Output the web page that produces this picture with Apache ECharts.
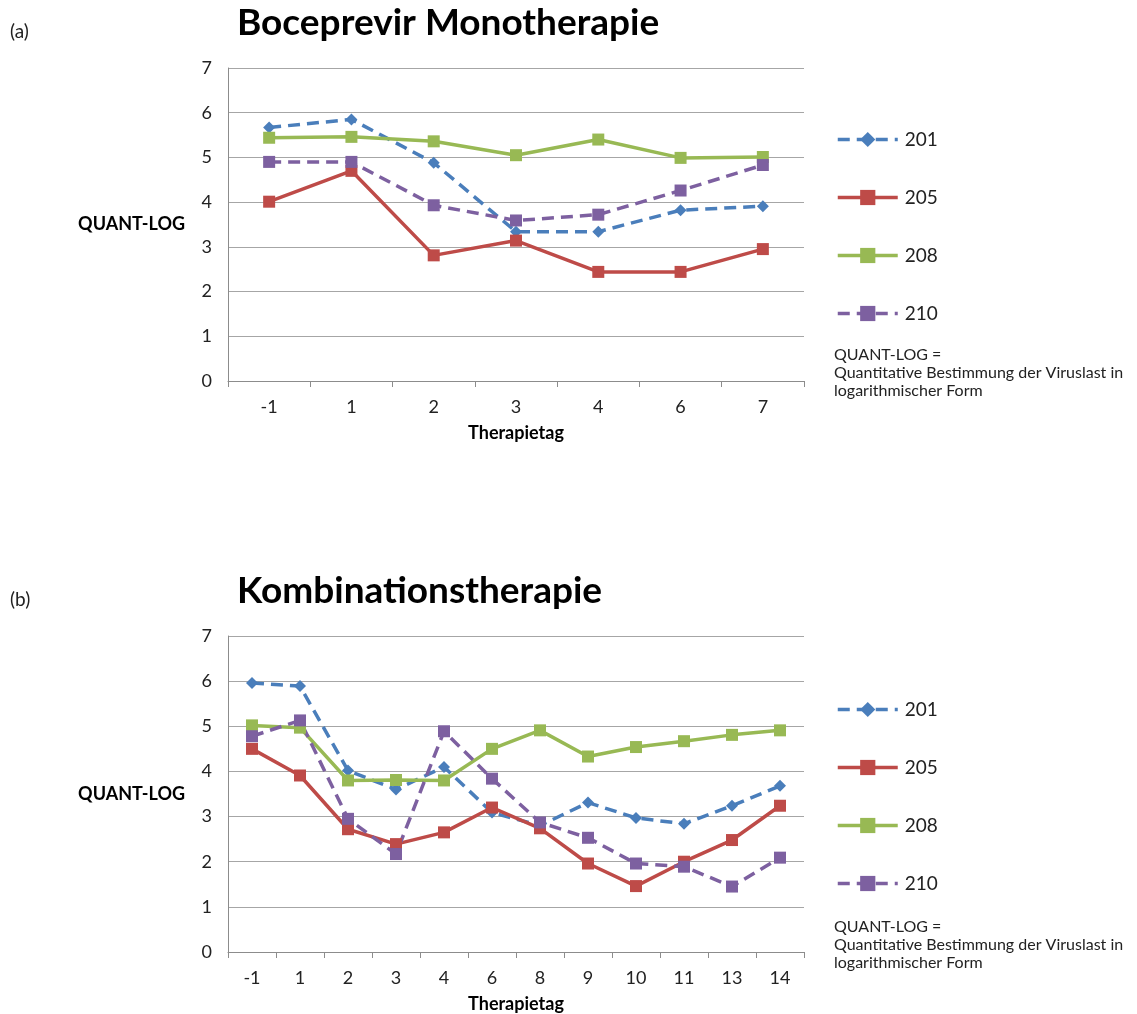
<!DOCTYPE html>
<html>
<head>
<meta charset="utf-8">
<script src="https://cdn.jsdelivr.net/npm/echarts@6/dist/echarts.min.js"></script>
<style>
  html, body { margin: 0; padding: 0; background: #fff; }
  #chart { width: 1137px; height: 1014px; }
</style>
</head>
<body>
<div id="chart"></div>
<script>
// Therapietage (x-axis categories)
const daysMono = ['-1', '1', '2', '3', '4', '6', '7'];
const daysCombo = ['-1', '1', '2', '3', '4', '6', '8', '9', '10', '11', '13', '14'];

// Patient IDs
const patients = ['201', '205', '208', '210'];

// QUANT-LOG values, Boceprevir Monotherapie
const mono201 = [5.67, 5.85, 4.88, 3.34, 3.34, 3.82, 3.91];
const mono205 = [4.01, 4.70, 2.81, 3.14, 2.44, 2.44, 2.95];
const mono208 = [5.44, 5.46, 5.36, 5.05, 5.40, 4.99, 5.01];
const mono210 = [4.90, 4.90, 3.93, 3.59, 3.72, 4.26, 4.83];

// QUANT-LOG values, Kombinationstherapie
const combo201 = [5.96, 5.89, 4.02, 3.60, 4.10, 3.09, 2.80, 3.31, 2.97, 2.84, 3.24, 3.68];
const combo205 = [4.50, 3.91, 2.72, 2.39, 2.65, 3.20, 2.74, 1.96, 1.46, 2.00, 2.48, 3.24];
const combo208 = [5.02, 4.97, 3.80, 3.81, 3.80, 4.50, 4.91, 4.33, 4.54, 4.67, 4.81, 4.91];
const combo210 = [4.78, 5.13, 2.95, 2.17, 4.89, 3.84, 2.87, 2.53, 1.96, 1.89, 1.45, 2.09];

const yTicks = { min: 0, max: 7, interval: 1 };

const FONT = 'Lato, "Open Sans", sans-serif';
const styles = {
  '201': { color: '#4a7ebb', type: [12, 7], symbol: 'diamond', size: 12 },
  '205': { color: '#be4b48', type: 'solid', symbol: 'rect', size: 12 },
  '208': { color: '#98b954', type: 'solid', symbol: 'rect', size: 12 },
  '210': { color: '#7d60a0', type: [12, 7], symbol: 'rect', size: 12 }
};

function makeSeries(name, data, idx) {
  const s = styles[name];
  return {
    name: name,
    type: 'line',
    xAxisIndex: idx,
    yAxisIndex: idx,
    data: data,
    symbol: s.symbol,
    symbolSize: s.size,
    showAllSymbol: true,
    lineStyle: { color: s.color, width: 3.5, type: s.type },
    itemStyle: { color: s.color },
    emphasis: { disabled: true },
    animation: false
  };
}

const grids = [
  { left: 228, top: 68, width: 576, height: 313 },
  { left: 228, top: 636, width: 576, height: 316 }
];

function xAxisFor(cats, idx) {
  return {
    type: 'category',
    gridIndex: idx,
    data: cats,
    boundaryGap: true,
    name: 'Therapietag',
    nameLocation: 'middle',
    nameGap: 43,
    nameTextStyle: { fontFamily: FONT, fontWeight: 'bold', fontSize: 18, color: '#000' },
    axisLine: { lineStyle: { color: '#8c8c8c', width: 1 } },
    axisTick: { show: true, alignWithLabel: false, length: 6, lineStyle: { color: '#8c8c8c' } },
    axisLabel: { fontFamily: FONT, fontSize: 18, color: '#222', margin: 17 }
  };
}

function yAxisFor(idx) {
  return {
    type: 'value',
    gridIndex: idx,
    min: yTicks.min,
    max: yTicks.max,
    interval: yTicks.interval,
    name: 'QUANT-LOG',
    nameLocation: 'middle',
    nameRotate: 0,
    nameGap: 43,
    nameTextStyle: { fontFamily: FONT, fontWeight: 'bold', fontSize: 18, color: '#000', align: 'right' },
    axisLine: { show: true, lineStyle: { color: '#8c8c8c', width: 1 } },
    axisTick: { show: false },
    splitLine: { lineStyle: { color: '#a6a6a6', width: 1 } },
    axisLabel: { fontFamily: FONT, fontSize: 18, color: '#222', margin: 16 }
  };
}

function legendAt(top) {
  return {
    orient: 'vertical',
    left: 831,
    top: top,
    itemGap: 39,
    itemWidth: 60,
    itemHeight: 19,
    data: patients,
    selectedMode: false,
    lineStyle: { width: 3.5 },
    textStyle: { fontFamily: FONT, fontSize: 19, color: '#222', padding: [0, 0, 0, 2] }
  };
}

function footnote(top) {
  return {
    type: 'text',
    left: 834,
    top: top,
    style: {
      text: 'QUANT-LOG =\nQuantitative Bestimmung der Viruslast in\nlogarithmischer Form',
      fontFamily: FONT,
      fontSize: 16,
      lineHeight: 18,
      fill: '#222'
    }
  };
}

const option = {
  backgroundColor: '#fff',
  animation: false,
  grid: grids,
  xAxis: [xAxisFor(daysMono, 0), xAxisFor(daysCombo, 1)],
  yAxis: [yAxisFor(0), yAxisFor(1)],
  legend: [legendAt(125), legendAt(695)],
  title: [
    { text: 'Boceprevir Monotherapie', left: 232, top: 0,
      textStyle: { fontFamily: FONT, fontWeight: 'bold', fontSize: 37, color: '#000' } },
    { text: 'Kombinationstherapie', left: 232, top: 568,
      textStyle: { fontFamily: FONT, fontWeight: 'bold', fontSize: 37, color: '#000' } }
  ],
  graphic: [
    { type: 'text', left: 10, top: 22, style: { text: '(a)', fontFamily: FONT, fontSize: 19, fill: '#222' } },
    { type: 'text', left: 10, top: 590, style: { text: '(b)', fontFamily: FONT, fontSize: 19, fill: '#222' } },
    footnote(346),
    footnote(918)
  ],
  series: [
    makeSeries('201', mono201, 0),
    makeSeries('205', mono205, 0),
    makeSeries('208', mono208, 0),
    makeSeries('210', mono210, 0),
    makeSeries('201', combo201, 1),
    makeSeries('205', combo205, 1),
    makeSeries('208', combo208, 1),
    makeSeries('210', combo210, 1)
  ]
};

const chart = echarts.init(document.getElementById('chart'), null, { renderer: 'canvas' });
chart.setOption(option);
</script>
</body>
</html>
